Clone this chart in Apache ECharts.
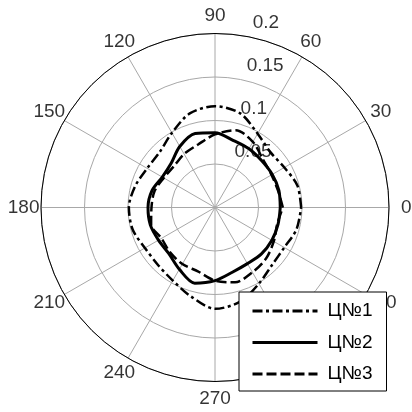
<!DOCTYPE html>
<html><head><meta charset="utf-8">
<script src="https://cdn.jsdelivr.net/npm/echarts@6/dist/echarts.min.js"></script>
<style>html,body{margin:0;padding:0;background:#fff}#c{width:412px;height:412px}</style>
</head><body><div id="c"></div>
<script>
// ---- data ----
var angles = [0,15,30,45,60,75,90,105,120,135,150,165,180,195,210,225,240,255,270,285,300,315,330,345,360];
var seriesNames = ['Ц№1','Ц№2','Ц№3'];
var c1 = [0.099,0.098,0.092,0.090,0.098,0.112,0.1165,0.112,0.099,0.090,0.090,0.095,0.099,0.098,0.093,0.093,0.097,0.106,0.1165,0.112,0.101,0.093,0.092,0.097,0.099];
var c2 = [0.075,0.076,0.076,0.076,0.078,0.080,0.086,0.088,0.081,0.0715,0.070,0.075,0.077,0.077,0.075,0.075,0.082,0.090,0.084,0.077,0.0745,0.0755,0.0755,0.075,0.075];
var c3 = [0.078,0.075,0.075,0.078,0.087,0.092,0.084,0.075,0.071,0.067,0.068,0.072,0.073,0.076,0.071,0.073,0.075,0.076,0.084,0.089,0.086,0.083,0.078,0.074,0.078];
var radiusTicks = [0.05,0.1,0.15,0.2];
var angleTicks = [0,30,60,90,120,150,180,210,240,270,300,330];

// ---- layout constants ----
var RMAX = 0.2;
var LABEL_R = RMAX * 1.1;
var RLABEL_ANGLE = 82;
var FONT = '"Liberation Sans", Arial, sans-serif';
var FS = 19;

function pairs(vals){ return vals.map(function(v,i){ return [v, angles[i]]; }); }

var chart = echarts.init(document.getElementById('c'), null, {renderer:'canvas'});
chart.setOption({
  animation:false,
  backgroundColor:'#fff',
  polar:{center:[215,207.5], radius:174},
  angleAxis:{
    type:'value', min:0, max:360, interval:30, startAngle:0, clockwise:false,
    axisLine:{show:true, lineStyle:{color:'#000', width:1}},
    axisTick:{show:false}, axisLabel:{show:false},
    splitLine:{show:true, lineStyle:{color:'#a8a8a8', width:1}}
  },
  radiusAxis:{
    type:'value', min:0, max:RMAX, interval:0.05,
    axisLine:{show:false}, axisTick:{show:false}, axisLabel:{show:false},
    splitLine:{show:true, lineStyle:{color:'#a8a8a8', width:1}}
  },
  legend:{
    data:seriesNames, orient:'vertical', left:239, top:292,
    backgroundColor:'#fff', borderColor:'#000', borderWidth:1, borderRadius:0,
    padding:[8,14,6,12], itemGap:9.5, itemWidth:65, itemHeight:14,
    itemStyle:{color:'transparent', borderWidth:0, opacity:0},
    lineStyle:{width:3},
    textStyle:{fontFamily:FONT, fontSize:FS, color:'#000', lineHeight:22, padding:[0,0,0,5]}
  },
  series:[
    {type:'scatter', coordinateSystem:'polar', clip:false, silent:true, symbolSize:1,
     itemStyle:{color:'transparent'}, z:1,
     data: radiusTicks.map(function(v){ return [v, RLABEL_ANGLE]; }),
     label:{show:true, position:'inside', align:'left', verticalAlign:'middle', offset:[13.5,-12.8],
       fontFamily:FONT, fontSize:FS, color:'#000',
       formatter:function(p){ return String(p.value[0]); }}},
    {type:'scatter', coordinateSystem:'polar', clip:false, silent:true, symbolSize:1,
     itemStyle:{color:'transparent'}, z:1,
     data: angleTicks.map(function(a){ return [LABEL_R, a]; }),
     label:{show:true, position:'inside', align:'center', verticalAlign:'middle',
       fontFamily:FONT, fontSize:FS, color:'#000',
       formatter:function(p){ return String(p.value[1]); }}},
    {name:seriesNames[0], type:'line', coordinateSystem:'polar', symbol:'none', smooth:0.3, z:3,
     lineStyle:{color:'#000', width:2.5, type:[10,3.5,3,3.5]}, itemStyle:{color:'#000'}, data:pairs(c1)},
    {name:seriesNames[1], type:'line', coordinateSystem:'polar', symbol:'none', smooth:0.3, z:3,
     lineStyle:{color:'#000', width:3, type:'solid'}, itemStyle:{color:'#000'}, data:pairs(c2)},
    {name:seriesNames[2], type:'line', coordinateSystem:'polar', symbol:'none', smooth:0.3, z:3,
     lineStyle:{color:'#000', width:2.5, type:[10,4]}, itemStyle:{color:'#000'}, data:pairs(c3)}
  ]
});
</script></body></html>
